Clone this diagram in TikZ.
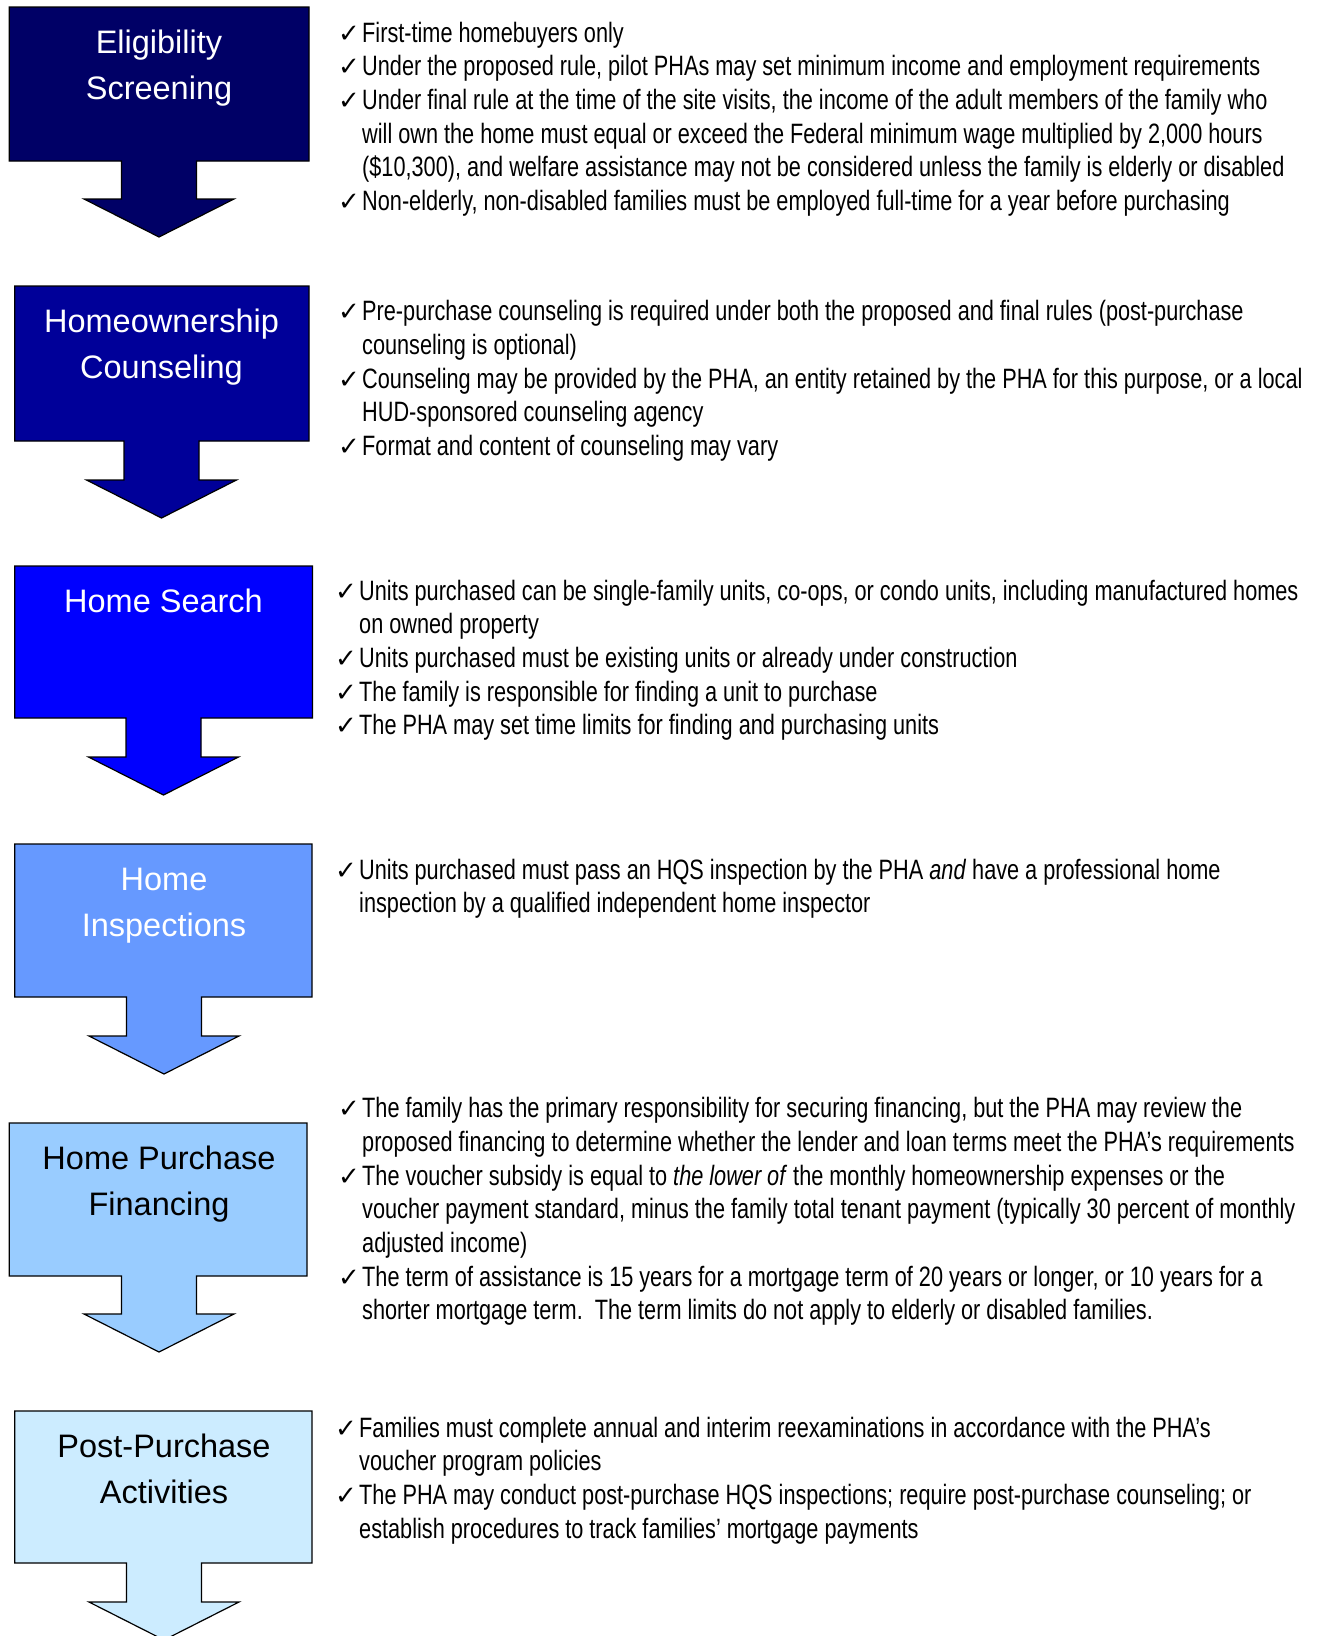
\documentclass[tikz,border=0pt]{standalone}
\usepackage{fontspec}
\setmainfont{Liberation Sans}
\newfontfamily\notefont[FakeStretch=0.775]{Liberation Sans}
\newfontfamily\symfont{DejaVu Sans}
\definecolor{navy}{RGB}{0,0,102}
\definecolor{darkblue}{RGB}{0,0,153}
\definecolor{pureblue}{RGB}{0,0,255}
\definecolor{midblue}{RGB}{102,153,255}
\definecolor{paleblue}{RGB}{153,204,255}
\definecolor{iceblue}{RGB}{204,236,255}
\newcommand{\notesfont}{\notefont\fontsize{28}{33.7}\selectfont\frenchspacing}
\newcommand{\tick}{\noindent\spaceskip=6pt plus 1pt minus 1pt\relax\hangindent=24pt\hangafter=1\makebox[24pt][l]{\symfont\fontsize{26}{26}\selectfont ✓}}
\begin{document}
\begin{tikzpicture}[x=1pt,y=-1pt,
  stepshape/.style={draw=black,line width=1.2pt,line join=miter},
  title/.style={font=\fontsize{32.5}{46.6}\selectfont,align=center,inner sep=0pt,anchor=base},
  notes/.style={font=\notesfont,text width=1000pt,align=left,inner sep=0pt,anchor=base west}]
\clip (0,0) rectangle (1321,1636);
\fill[white] (0,0) rectangle (1321,1636);

% arrow boxes
\filldraw[stepshape,fill=navy] (9.3,7) -- (309,7) -- (309,161) -- (196.5,161) -- (196.5,199) -- (234,199) -- (159,237) -- (84,199) -- (121.5,199) -- (121.5,161) -- (9.3,161) -- cycle;
\filldraw[stepshape,fill=darkblue] (14.7,286) -- (309,286) -- (309,441) -- (199,441) -- (199,480) -- (236.5,480) -- (161.5,518) -- (86.5,480) -- (124,480) -- (124,441) -- (14.7,441) -- cycle;
\filldraw[stepshape,fill=pureblue] (14.7,566) -- (312.5,566) -- (312.5,718) -- (201,718) -- (201,757) -- (238.5,757) -- (163.5,795) -- (88.5,757) -- (126,757) -- (126,718) -- (14.7,718) -- cycle;
\filldraw[stepshape,fill=midblue] (14.7,844) -- (312,844) -- (312,997) -- (201.5,997) -- (201.5,1036) -- (239,1036) -- (164,1074) -- (89,1036) -- (126.5,1036) -- (126.5,997) -- (14.7,997) -- cycle;
\filldraw[stepshape,fill=paleblue] (9.3,1123) -- (307,1123) -- (307,1276) -- (196.5,1276) -- (196.5,1314) -- (234,1314) -- (159,1352) -- (84,1314) -- (121.5,1314) -- (121.5,1276) -- (9.3,1276) -- cycle;
\filldraw[stepshape,fill=iceblue] (14.7,1411) -- (312,1411) -- (312,1563) -- (201.5,1563) -- (201.5,1602) -- (239,1602) -- (164,1640) -- (89,1602) -- (126.5,1602) -- (126.5,1563) -- (14.7,1563) -- cycle;

% titles (anchored at the last line)
\node[title,text=white] (elig) at (159,99.6) {Eligibility\\Screening};
\node[title,text=white] (couns) at (161.5,378.6) {Homeownership\\Counseling};
\node[title,text=white] (search) at (163.5,612) {Home Search};
\node[title,text=white] (insp) at (164,936.6) {Home\\Inspections};
\node[title] (fin) at (159,1215.6) {Home Purchase\\Financing};
\node[title] (post) at (164,1503.6) {Post-Purchase\\Activities};

% notes
\node[notes] (eligtext) at (338,42) {%
\tick First-time homebuyers only

\tick Under the proposed rule, pilot PHAs may set minimum income and employment requirements

\tick Under final rule at the time of the site visits, the income of the adult members of the family who\newline
will own the home must equal or exceed the Federal minimum wage multiplied by 2,000 hours\newline
(\$10,300), and welfare assistance may not be considered unless the family is elderly or disabled

\tick Non-elderly, non-disabled families must be employed full-time for a year before purchasing\par};
\node[notes] (counstext) at (338,320.6) {%
\tick Pre-purchase counseling is required under both the proposed and final rules (post-purchase\newline
counseling is optional)

\tick Counseling may be provided by the PHA, an entity retained by the PHA for this purpose, or a local\newline
HUD-sponsored counseling agency

\tick Format and content of counseling may vary\par};
\node[notes] (searchtext) at (335,600) {%
\tick Units purchased can be single-family units, co-ops, or condo units, including manufactured homes\newline
on owned property

\tick Units purchased must be existing units or already under construction

\tick The family is responsible for finding a unit to purchase

\tick The PHA may set time limits for finding and purchasing units\par};
\node[notes] (insptext) at (335,879) {%
\tick Units purchased must pass an HQS inspection by the PHA \textit{and} have a professional home\newline
inspection by a qualified independent home inspector\par};
\node[notes] (fintext) at (338,1117.6) {%
\tick The family has the primary responsibility for securing financing, but the PHA may review the\newline
proposed financing to determine whether the lender and loan terms meet the PHA’s requirements

\tick The voucher subsidy is equal to \textit{the lower of} the monthly homeownership expenses or the\newline
voucher payment standard, minus the family total tenant payment (typically 30 percent of monthly\newline
adjusted income)

\tick The term of assistance is 15 years for a mortgage term of 20 years or longer, or 10 years for a\newline
shorter mortgage term.~ The term limits do not apply to elderly or disabled families.\par};
\node[notes] (posttext) at (335,1437) {%
\tick Families must complete annual and interim reexaminations in accordance with the PHA’s\newline
voucher program policies

\tick The PHA may conduct post-purchase HQS inspections; require post-purchase counseling; or\newline
establish procedures to track families’ mortgage payments\par};
\end{tikzpicture}
\end{document}
